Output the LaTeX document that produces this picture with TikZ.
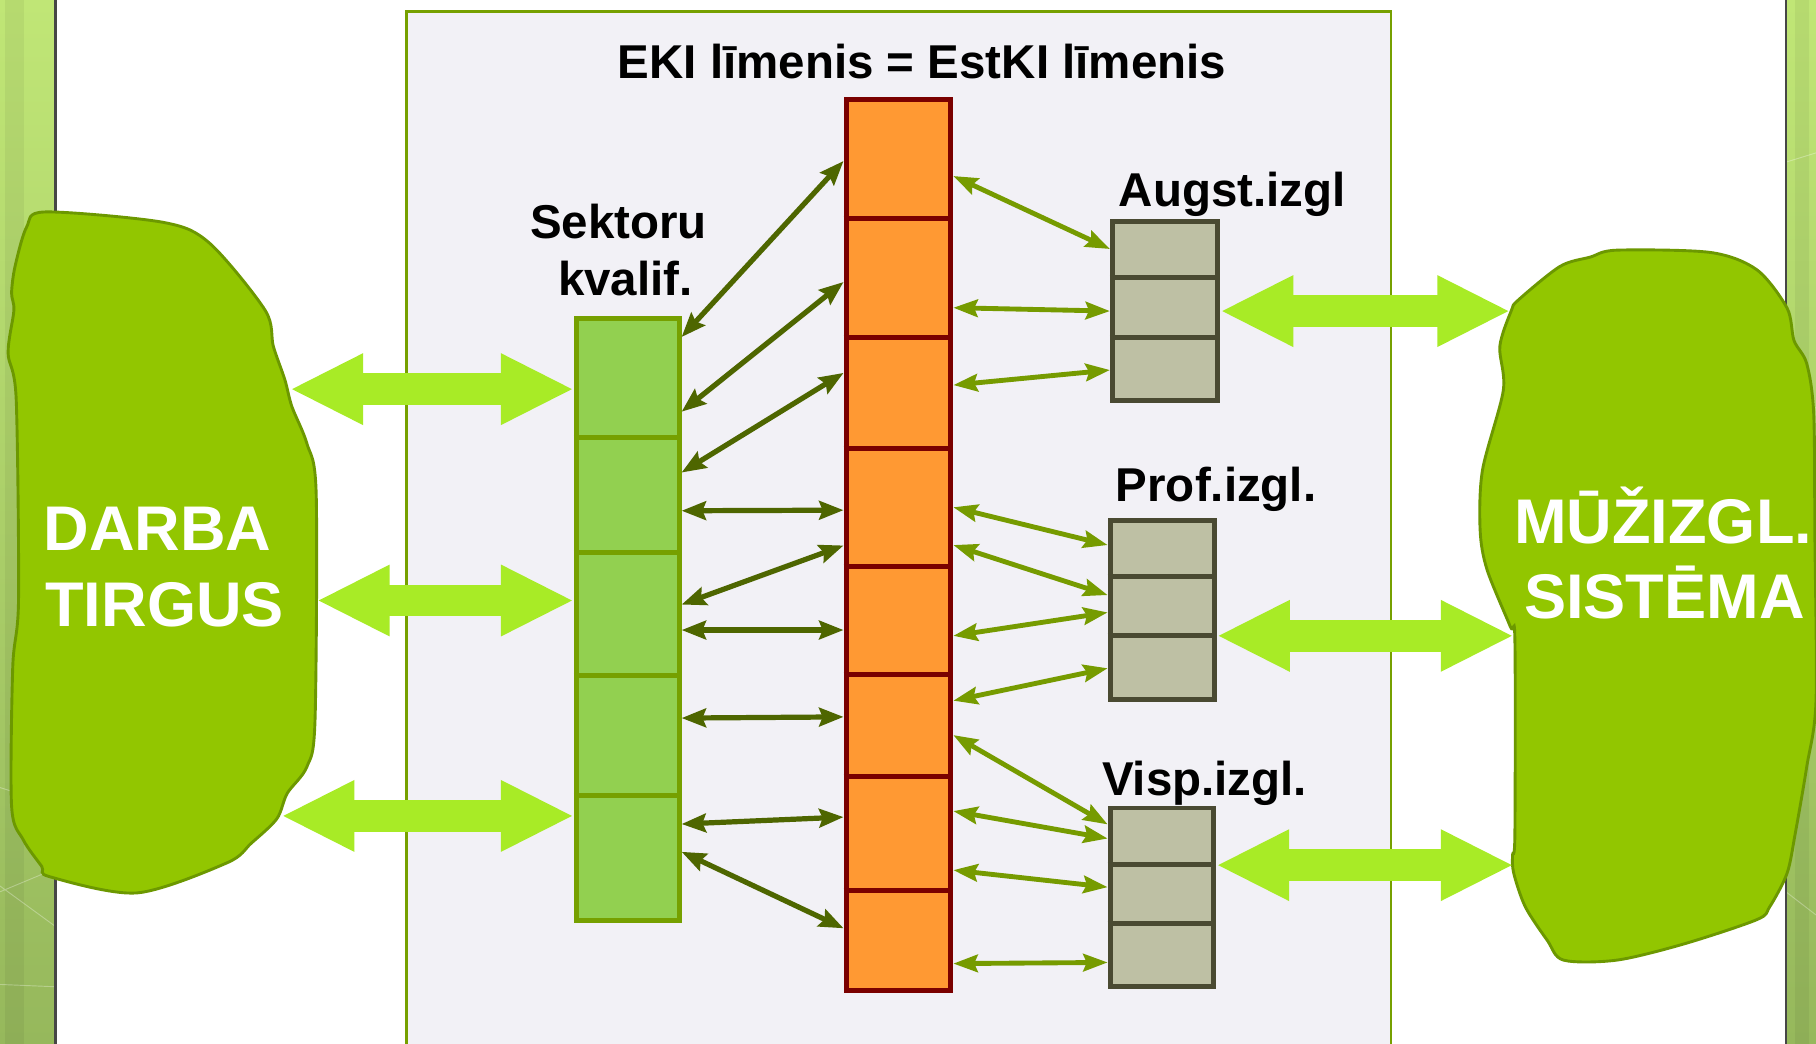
\documentclass[tikz,border=0pt]{standalone}
\usepackage{fontspec}
\setmainfont{Liberation Sans}
\usetikzlibrary{arrows.meta}
\definecolor{panelfill}{RGB}{242,241,246}
\definecolor{panelline}{RGB}{118,160,0}
\definecolor{blobfill}{RGB}{146,198,0}
\definecolor{blobline}{RGB}{108,152,0}
\definecolor{bigarr}{RGB}{168,235,38}
\definecolor{gfill}{RGB}{146,208,80}
\definecolor{gline}{RGB}{118,160,0}
\definecolor{ofill}{RGB}{255,153,51}
\definecolor{oline}{RGB}{122,0,0}
\definecolor{bfill}{RGB}{190,192,164}
\definecolor{bline}{RGB}{74,74,50}
\definecolor{darr}{RGB}{78,102,0}
\definecolor{larr}{RGB}{118,155,0}
\definecolor{stripetop}{RGB}{192,230,118}
\definecolor{stripebot}{RGB}{150,184,92}
\definecolor{stripeline}{RGB}{70,70,70}
\begin{document}
\begin{tikzpicture}[x=1pt,y=-1pt,
  gcolbox/.style={draw=gline, fill=gfill, line width=4pt, inner sep=0pt},
  ocolbox/.style={draw=oline, fill=ofill, line width=4.3pt, inner sep=0pt},
  grbox/.style={draw=bline, fill=bfill, line width=4.3pt, inner sep=0pt},
  txtlabel/.style={font=\fontsize{41}{49}\selectfont\bfseries, inner sep=0pt, anchor=base},
  blobtext/.style={font=\fontsize{54.5}{65}\selectfont\bfseries, text=white, inner sep=0pt},
  bigarrow/.style={draw=bigarr, line width=27.5pt, {Triangle[length=63pt,width=57pt]}-{Triangle[length=63pt,width=57pt]}},
  darrow/.style={draw=darr, line width=4.5pt, {Stealth[length=21pt,width=16pt,inset=3pt]}-{Stealth[length=21pt,width=16pt,inset=3pt]}},
  larrow/.style={draw=larr, line width=4.2pt, {Stealth[length=21pt,width=15pt,inset=3pt]}-{Stealth[length=21pt,width=15pt,inset=3pt]}},
  blob/.style={fill=blobfill, draw=blobline, line width=2.5pt},
  stripe/.style={top color=stripetop, bottom color=stripebot},
  stripeband/.style={fill=black, opacity=0.05},
  stripefaint/.style={draw=white, opacity=0.3, line width=0.8pt},
  stripeedge/.style={draw=stripeline, line width=2pt},
  divg/.style={draw=gline, line width=4pt},
  divo/.style={draw=oline, line width=4.3pt},
  divb/.style={draw=bline, line width=4.3pt},
]
\useasboundingbox (0,0) rectangle (1568,901);
\clip (0,0) rectangle (1568,901);
\fill[white] (0,0) rectangle (1568,901);
% side stripes
\shade[stripe] (0,0) rectangle (48,901);
\fill[stripeband] (4,0) rectangle (21,901);
\draw[stripefaint] (0,680) -- (48,695);
\draw[stripefaint] (0,770) -- (48,750) (0,765) -- (48,800);
\draw[stripefaint] (0,850) -- (48,852);
\draw[stripeedge] (48,0) -- (48,901);
\shade[stripe] (1542,0) rectangle (1568,901);
\fill[stripeband] (1550,0) rectangle (1562,901);
\draw[stripefaint] (1542,140) -- (1568,132) (1542,360) -- (1568,352) (1542,770) -- (1568,790);
\draw[stripeedge] (1542,0) -- (1542,901);
% central panel
\draw[fill=panelfill, draw=panelline, line width=2pt] (351,10) rectangle (1201,930);

% blobs
\draw[blob] plot[smooth cycle, tension=0.5] coordinates {
 (39,183) (141,192) (181,210) (229,268) (236,299) (246,328) (252,351) (265,383) (273,426)
 (272,622) (265,662) (248,685) (239,707) (217,728) (196,745) (118,771) (43,757) (36,748)
 (20,725) (10,696) (11,576) (16,518) (14,345) (7,305) (12,268) (10,253) (13,230) (23,196)};
\draw[blob] plot[smooth cycle, tension=0.5] coordinates {
 (1396,216) (1477,218) (1517,233) (1543,266) (1549,294) (1560,314) (1566,357) (1567,461)
 (1568,605) (1560,662) (1550,720) (1543,754) (1528,783) (1517,794) (1454,815) (1396,829)
 (1350,829) (1336,812) (1317,783) (1307,754) (1306,738) (1308,720) (1308,553) (1304,541)
 (1284,492) (1278,458) (1280,406) (1298,337) (1295,299) (1305,268) (1311,259) (1347,230) (1373,222)};

\node[blobtext, anchor=base west] (darba) at (37.5,475) {DARBA};
\node[blobtext, anchor=base west] (tirgus) at (39,541) {TIRGUS};
\node[blobtext, anchor=base] (muz) at (1436,469) {MŪŽIZGL.};
\node[blobtext, anchor=base] (sist) at (1437,534) {SISTĒMA};

% columns
\node[gcolbox, minimum width=89pt, minimum height=520pt] (gcol) at (542,535) {};
\foreach \yy in {378,477,583,687} \draw[divg] (gcol.west |- 0,\yy) -- (gcol.east |- 0,\yy);

\node[ocolbox, minimum width=90.5pt, minimum height=769pt] (ocol) at (775.75,470.5) {};
\foreach \yy in {188.5,291,387,489,582.5,670.5,768.5} \draw[divo] (ocol.west |- 0,\yy) -- (ocol.east |- 0,\yy);

\node[grbox, minimum width=91pt, minimum height=155pt] (aug) at (1006,268.5) {};
\foreach \yy in {240,291} \draw[divb] (aug.west |- 0,\yy) -- (aug.east |- 0,\yy);
\node[grbox, minimum width=90pt, minimum height=155pt] (prof) at (1003.5,526.5) {};
\foreach \yy in {498,549} \draw[divb] (prof.west |- 0,\yy) -- (prof.east |- 0,\yy);
\node[grbox, minimum width=89.5pt, minimum height=153.7pt] (visp) at (1003.25,774.5) {};
\foreach \yy in {746.4,797.3} \draw[divb] (visp.west |- 0,\yy) -- (visp.east |- 0,\yy);

% labels
\node[txtlabel] (title) at (796,68) {EKI līmenis = EstKI līmenis};
\node[txtlabel] (sek1) at (534,206) {Sektoru};
\node[txtlabel] (sek2) at (540,255) {kvalif.};
\node[txtlabel] (augl) at (1064,178.5) {Augst.izgl};
\node[txtlabel] (profl) at (1050,433) {Prof.izgl.};
\node[txtlabel] (vispl) at (1040,686.5) {Visp.izgl.};

% big double arrows
\coordinate (dt1) at (250.5,336);
\coordinate (dt2) at (273.5,518.5);
\coordinate (dt3) at (243,704.5);
\coordinate (ms1) at (1304,268.6);
\coordinate (ms2) at (1307,549);
\coordinate (ms3) at (1307,747);
\draw[bigarrow] (dt1) -- (gcol.west |- dt1);
\draw[bigarrow] (dt2) -- (gcol.west |- dt2);
\draw[bigarrow] (dt3) -- (gcol.west |- dt3);
\draw[bigarrow] (aug.east |- ms1) -- (ms1);
\draw[bigarrow] (prof.east |- ms2) -- (ms2);
\draw[bigarrow] (visp.east |- ms3) -- (ms3);

% sector <-> EKI connectors
\draw[darrow] (gcol.east |- 0,291) -- (ocol.west |- 0,139);
\draw[darrow] (gcol.east |- 0,355.5) -- (ocol.west |- 0,243.5);
\draw[darrow] (gcol.east |- 0,408) -- (ocol.west |- 0,322);
\draw[darrow] (gcol.east |- 0,441) -- (ocol.west |- 0,440.5);
\draw[darrow] (gcol.east |- 0,522) -- (ocol.west |- 0,471);
\draw[darrow] (gcol.east |- 0,544) -- (ocol.west |- 0,544);
\draw[darrow] (gcol.east |- 0,620) -- (ocol.west |- 0,619);
\draw[darrow] (gcol.east |- 0,711.5) -- (ocol.west |- 0,705.5);
\draw[darrow] (gcol.east |- 0,735.5) -- (ocol.west |- 0,801.5);

% EKI <-> education connectors
\draw[larrow] (ocol.east |- 0,152) -- (aug.west |- 0,215);
\draw[larrow] (ocol.east |- 0,265.7) -- (aug.west |- 0,268.6);
\draw[larrow] (ocol.east |- 0,332.5) -- (aug.west |- 0,319.5);
\draw[larrow] (ocol.east |- 0,438) -- (prof.west |- 0,470.6);
\draw[larrow] (ocol.east |- 0,470.6) -- (prof.west |- 0,513.8);
\draw[larrow] (ocol.east |- 0,549) -- (prof.west |- 0,528.8);
\draw[larrow] (ocol.east |- 0,605) -- (prof.west |- 0,577);
\draw[larrow] (ocol.east |- 0,634.7) -- (visp.west |- 0,711.8);
\draw[larrow] (ocol.east |- 0,700.3) -- (visp.west |- 0,724);
\draw[larrow] (ocol.east |- 0,751.3) -- (visp.west |- 0,766);
\draw[larrow] (ocol.east |- 0,832) -- (visp.west |- 0,831);
\end{tikzpicture}
\end{document}
